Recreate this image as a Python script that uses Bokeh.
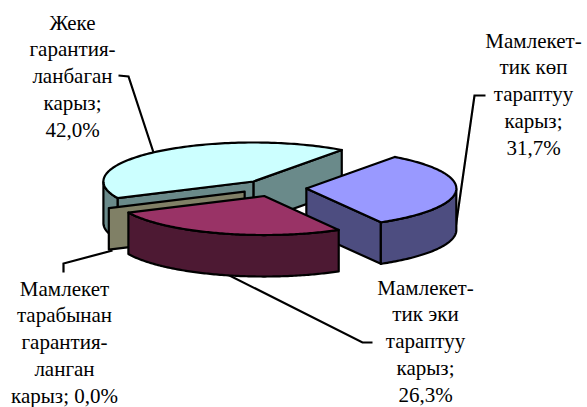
import numpy as np
from bokeh.plotting import figure
from bokeh.models import Range1d
from bokeh.core.properties import value
from bokeh.embed import file_html
from bokeh.resources import INLINE

# --- chart data -----------------------------------------------------------
categories = ["Жеке гарантияланбаган карыз", "Мамлекет тарабынан гарантияланган карыз",
              "Мамлекеттик эки тараптуу карыз", "Мамлекеттик көп тараптуу карыз"]
shares = [42.0, 0.0, 26.3, 31.7]
top_colors = ["#CCFFFF", "#808066", "#993366", "#9999FF"]
side_colors = ["#6A8A8A", "#808066", "#4D1933", "#4D4D80"]
label_lines = [
    ["Жеке", "гарантия-", "ланбаган", "карыз;", "42,0%"],
    ["Мамлекет", "тарабынан", "гарантия-", "ланган", "карыз; 0,0%"],
    ["Мамлекет-", "тик эки", "тараптуу", "карыз;", "26,3%"],
    ["Мамлекет-", "тик көп", "тараптуу", "карыз;", "31,7%"],
]

# --- page layout (pixel-like data space) ----------------------------------
W, H = 587, 407
CX, CY, RX, RY, DEPTH = 273.5, 187.5, 150.0, 39.0, 41.5
EXPLODE = 0.216
START = 53.9
FONT = "Liberation Serif"
FONT_SIZE = "21px"
LINE_PITCH = 26.8
LINE_W = 2.2
TEXT_SHIFT = -8

p = figure(width=W, height=H, output_backend="svg", toolbar_location=None,
           x_range=Range1d(0, W), y_range=Range1d(H, 0),
           min_border=0, outline_line_color=None, background_fill_color="white")
p.xaxis.visible = False
p.yaxis.visible = False
p.grid.visible = False


def ell(cx, cy, t):
    r = np.radians(t)
    return cx + RX * np.cos(r), cy - RY * np.sin(r)


def poly(xs, ys, color):
    p.patch(list(xs), list(ys), fill_color=color, line_color="black",
            line_width=LINE_W, line_join="round")


# --- leader lines, drawn first so the slices cover their inner ends -------
leaders = [
    ([118, 128, 153], [75, 76, 152]),
    ([63, 63, 112], [272, 263, 250]),
    ([225, 362, 372], [273, 342, 342]),
    ([485, 474, 455], [95, 95, 228]),
]
for lx, ly in leaders:
    p.line(lx, ly, line_color="black", line_width=LINE_W, line_join="miter")

# --- slices ---------------------------------------------------------------
spans = []
a = START
for s in shares:
    spans.append((a, a + s * 3.6))
    a += s * 3.6

geo = []
for (a0, a1) in spans:
    mid = np.radians((a0 + a1) / 2)
    cx = CX + EXPLODE * RX * np.cos(mid)
    cy = CY - EXPLODE * RY * np.sin(mid)
    geo.append((cx, cy, a0, a1))


def draw_slice(i, start_face, end_face):
    cx, cy, a0, a1 = geo[i]
    top, side = top_colors[i], side_colors[i]
    x0, y0 = ell(cx, cy, a0)
    x1, y1 = ell(cx, cy, a1)
    if start_face:
        poly([cx, x0, x0, cx], [cy, y0, y0 + DEPTH, cy + DEPTH], side)
    if end_face:
        poly([cx, x1, x1, cx], [cy, y1, y1 + DEPTH, cy + DEPTH], side)
    # outer wall: only the part of the rim on the front half of the ellipse
    ts = np.linspace(a0, a1, 120)
    front = ts[np.sin(np.radians(ts)) <= 0]
    if len(front) > 1 and a1 > a0:
        xa, ya = ell(cx, cy, front)
        poly(np.r_[xa, xa[::-1]], np.r_[ya, ya[::-1] + DEPTH], side)
    # top face
    if a1 > a0:
        xt, yt = ell(cx, cy, ts)
        poly(np.r_[cx, xt], np.r_[cy, yt], top)


draw_slice(0, True, True)    # light cyan slice shows both cut faces
draw_slice(1, False, True)   # zero-size slice is one flat face
draw_slice(3, True, False)   # blue slice shows its left cut face
draw_slice(2, False, False)  # red slice shows only its rim

# --- labels ---------------------------------------------------------------
anchors = [(72, 30), (64, 296), (425, 295), (533, 48)]
for lines, (ax, ay) in zip(label_lines, anchors):
    ys = [ay + TEXT_SHIFT + k * LINE_PITCH for k in range(len(lines))]
    p.text([ax] * len(lines), ys, text=lines, text_align="center",
           text_baseline="alphabetic", text_color="black",
           text_font=value(FONT), text_font_size=FONT_SIZE)

open("out.html", "w").write(file_html(p, INLINE))
